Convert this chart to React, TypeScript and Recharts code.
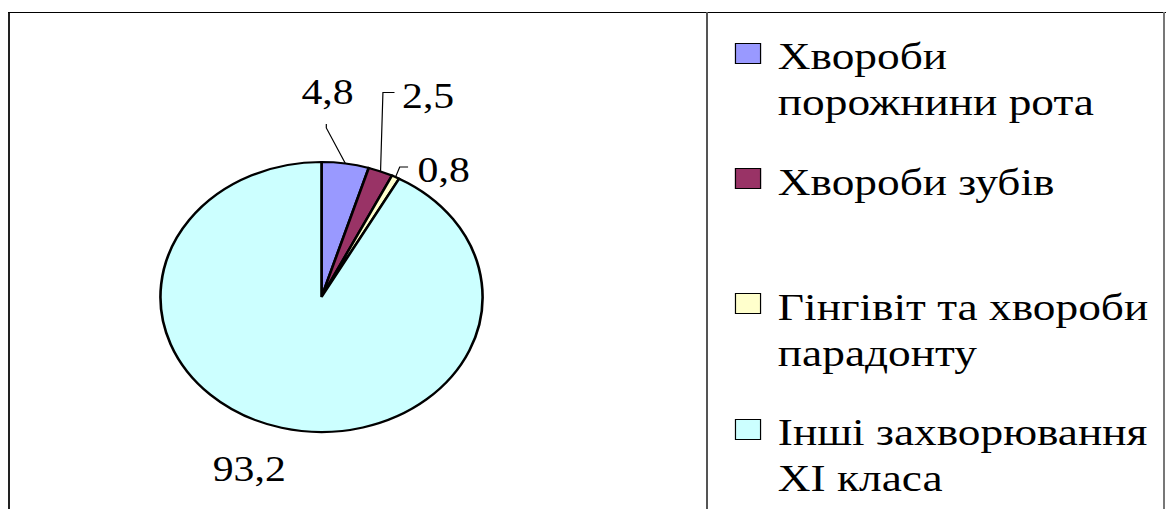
import React from "react";
import { PieChart, Pie, Cell, Legend } from "recharts";

const CATEGORIES = [
  "Хвороби\nпорожнини рота",
  "Хвороби зубів",
  "Гінгівіт та хвороби\nпарадонту",
  "Інші захворювання\nXI класа",
];
const VALUES = [4.8, 2.5, 0.8, 93.2];
const COLORS = ["#9999FF", "#993366", "#FFFFCC", "#CCFFFF"];

// the original is stretched sideways, so the chart is drawn narrow and scaled in x
const STRETCH = 1.193;
const W = 978;
const H = 509;
const FONT = "Liberation Serif";
const RADIAN = Math.PI / 180;

// leader lines / label text, offsets from the rim point at each slice's mid angle
const LABEL_LAYOUT = [
  { elbow: [-16, -35.5], end: [-16, -39.5], text: [-15, -59.5], anchor: "middle" },
  { elbow: [2, -79], end: [11.7, -79], text: [18, -63.6], anchor: "start" },
  { elbow: [3.5, -10], end: [10.5, -10], text: [18.5, 4.5], anchor: "start" },
  { elbow: null, end: null, text: [-27, 52.8], anchor: "middle" },
];

const chartData = CATEGORIES.map((name, i) => ({ name, value: VALUES[i] }));

const fmt = (v: number) => v.toFixed(1).replace(".", ",");

function renderLabel(props: any) {
  const { cx, cy, midAngle, outerRadius, index, value } = props;
  const lay = LABEL_LAYOUT[index];
  if (!lay) return null;
  const ax = cx + outerRadius * Math.cos(-midAngle * RADIAN);
  const ay = cy + outerRadius * Math.sin(-midAngle * RADIAN);
  return (
    <g key={`lbl-${index}`}>
      {lay.elbow && lay.end && (
        <polyline
          points={`${ax},${ay} ${ax + lay.elbow[0]},${ay + lay.elbow[1]} ${ax + lay.end[0]},${ay + lay.end[1]}`}
          fill="none"
          stroke="#000"
          strokeWidth={1}
        />
      )}
      <text
        x={ax + lay.text[0]}
        y={ay + lay.text[1]}
        textAnchor={lay.anchor as any}
        fontFamily={FONT}
        fontSize={35}
        fill="#000"
      >
        {fmt(value)}
      </text>
    </g>
  );
}

function LegendContent(props: any) {
  // keep the data order (recharts sorts legend entries by name otherwise)
  const payload = [...(props.payload || [])].sort(
    (a: any, b: any) => CATEGORIES.indexOf(a.value) - CATEGORIES.indexOf(b.value)
  );
  return (
    <div style={{ position: "relative", width: 362, height: H, fontFamily: FONT, fontSize: 38, color: "#000" }}>
      {payload.map((entry: any, i: number) => {
        const k = CATEGORIES.indexOf(entry.value);
        return (
          <div key={i} style={{ position: "absolute", left: 0, top: 33.4 + 125.3 * i, width: 362 }}>
            <div
              style={{
                position: "absolute",
                left: 0,
                top: 9.3,
                width: 20,
                height: 19,
                background: COLORS[k] ?? entry.color,
                border: "1.6px solid #000",
              }}
            />
            <div
              style={{
                position: "absolute",
                left: 36,
                top: 0,
                whiteSpace: "pre",
                lineHeight: "46px",
                fontFamily: FONT,
              }}
            >
              {entry.value}
            </div>
          </div>
        );
      })}
    </div>
  );
}

export default function App() {
  return (
    <div
      style={{
        position: "absolute",
        left: 0,
        top: 0,
        width: 1166,
        height: H,
        overflow: "hidden",
        background: "#fff",
        fontFamily: FONT,
      }}
    >
      {/* table-cell frame */}
      <div style={{ position: "absolute", left: 8, top: 12, width: 2, height: H, background: "#222" }} />
      <div style={{ position: "absolute", left: 8, top: 11.7, width: 1158, height: 1.6, background: "#000" }} />
      <div style={{ position: "absolute", left: 705.8, top: 12, width: 2, height: H, background: "#555" }} />
      <div style={{ position: "absolute", left: 1163.3, top: 12, width: 2, height: H, background: "#777" }} />

      <div
        style={{
          position: "absolute",
          left: 0,
          top: 0,
          width: W,
          height: H,
          transform: `scaleX(${STRETCH})`,
          transformOrigin: "0 0",
        }}
      >
        <PieChart width={W} height={H} margin={{ top: 0, right: 0, bottom: 0, left: 0 }}>
          <Pie
            data={chartData}
            dataKey="value"
            nameKey="name"
            cx={269.5}
            cy={297}
            outerRadius={135}
            startAngle={90}
            endAngle={-270}
            stroke="#000"
            strokeWidth={2.2}
            label={renderLabel}
            labelLine={false}
            isAnimationActive={false}
          >
            {chartData.map((_, i) => (
              <Cell key={i} fill={COLORS[i]} />
            ))}
          </Pie>
          <Legend
            layout="vertical"
            align="right"
            verticalAlign="top"
            itemSorter={null as any}
            content={<LegendContent />}
            wrapperStyle={{ left: 616, top: 0, right: "auto", width: 362, height: H }}
          />
        </PieChart>
      </div>
    </div>
  );
}
